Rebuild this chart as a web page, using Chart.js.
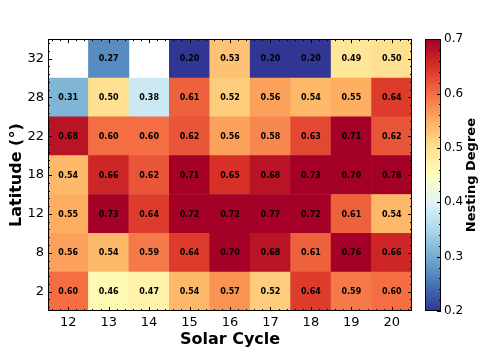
<!DOCTYPE html>
<html>
<head>
<meta charset="utf-8">
<script src="https://cdn.jsdelivr.net/npm/chart.js@4/dist/chart.umd.min.js"></script>
<style>
html, body { margin: 0; padding: 0; background: #fff; }
#wrap { width: 488px; height: 355px; position: relative; }
</style>
</head>
<body>
<div id="wrap"><canvas id="chart"></canvas></div>
<script>
// solar cycles on x, latitude bands on y (bottom to top)
const cycles = [12, 13, 14, 15, 16, 17, 18, 19, 20];
const latitudes = ['2', '8', '12', '18', '22', '28', '32'];

const lat2  = [0.60, 0.46, 0.47, 0.54, 0.57, 0.52, 0.64, 0.59, 0.60];
const lat8  = [0.56, 0.54, 0.59, 0.64, 0.70, 0.68, 0.61, 0.76, 0.66];
const lat12 = [0.55, 0.73, 0.64, 0.72, 0.72, 0.77, 0.72, 0.61, 0.54];
const lat18 = [0.54, 0.66, 0.62, 0.71, 0.65, 0.68, 0.73, 0.70, 0.78];
const lat22 = [0.68, 0.60, 0.60, 0.62, 0.56, 0.58, 0.63, 0.71, 0.62];
const lat28 = [0.31, 0.50, 0.38, 0.61, 0.52, 0.56, 0.54, 0.55, 0.64];
const lat32 = [null, 0.27, null, 0.20, 0.53, 0.20, 0.20, 0.49, 0.50];
const rows = [lat2, lat8, lat12, lat18, lat22, lat28, lat32];

const cbTicks = [0.2, 0.3, 0.4, 0.5, 0.6, 0.7];
const vmin = 0.2, vmax = 0.7;

// RdYlBu reversed
const stops = ['#313695', '#4575b4', '#74add1', '#abd9e9', '#e0f3f8', '#ffffbf',
               '#fee090', '#fdae61', '#f46d43', '#d73027', '#a50026'];

function hexRgb(h) {
    return [parseInt(h.slice(1, 3), 16), parseInt(h.slice(3, 5), 16), parseInt(h.slice(5, 7), 16)];
}

function cmap(v) {
    let t = (v - vmin) / (vmax - vmin);
    t = Math.max(0, Math.min(1, t));
    let p = t * (stops.length - 1);
    let i = Math.min(Math.floor(p), stops.length - 2);
    let f = p - i;
    let a = hexRgb(stops[i]), b = hexRgb(stops[i + 1]);
    let c = a.map((x, k) => Math.round(x + (b[k] - x) * f));
    return 'rgb(' + c.join(',') + ')';
}

let datasets = [];
for (let r = 0; r < rows.length; r++) {
    let pts = [];
    for (let i = 0; i < cycles.length; i++) {
        if (rows[r][i] == null) continue;
        pts.push({x: cycles[i], y: [r - 0.5, r + 0.5], v: rows[r][i]});
    }
    datasets.push({
        label: latitudes[r],
        data: pts,
        grouped: false,
        barPercentage: 1,
        categoryPercentage: 1,
        borderWidth: 0,
        backgroundColor: ctx => ctx.raw ? cmap(ctx.raw.v) : '#fff'
    });
}

const FONT = "'DejaVu Sans', sans-serif";

let decor = {
    id: 'decor',
    afterDatasetsDraw(chart) {
        let ctx = chart.ctx;
        ctx.save();
        ctx.font = 'bold 8px ' + FONT;
        ctx.fillStyle = '#000';
        ctx.textAlign = 'center';
        ctx.textBaseline = 'middle';
        chart.data.datasets.forEach((ds, di) => {
            chart.getDatasetMeta(di).data.forEach((bar, j) => {
                let p = bar.getProps(['x', 'y', 'base'], true);
                ctx.fillText(ds.data[j].v.toFixed(2), p.x, (p.y + p.base) / 2 + 0.5);
            });
        });
        ctx.restore();
    },
    afterDraw(chart) {
        let ctx = chart.ctx;
        let a = chart.chartArea;
        let xs = chart.scales.x, ys = chart.scales.y, cb = chart.scales.cb;
        ctx.save();
        ctx.strokeStyle = '#000';
        ctx.lineWidth = 1;

        // ticks, inward on all sides
        ctx.beginPath();
        for (let k = 58; k <= 102; k++) {
            let px = Math.round(xs.getPixelForValue(k / 5)) + 0.5;
            let len = k % 5 == 0 ? 4 : 2;
            ctx.moveTo(px, a.bottom); ctx.lineTo(px, a.bottom - len);
            ctx.moveTo(px, a.top); ctx.lineTo(px, a.top + len);
        }
        for (let k = -2; k <= 32; k++) {
            let py = Math.round(ys.getPixelForValue(k / 5)) + 0.5;
            let len = k % 5 == 0 ? 4 : 2;
            ctx.moveTo(a.left, py); ctx.lineTo(a.left + len, py);
            ctx.moveTo(a.right, py); ctx.lineTo(a.right - len, py);
        }
        ctx.stroke();
        ctx.strokeRect(Math.round(a.left) + 0.5, Math.round(a.top) + 0.5,
                       Math.round(a.right - a.left) - 1, Math.round(a.bottom - a.top) - 1);

        // colorbar
        let cx = cb.left + 13, cw = 16;
        let y0 = cb.getPixelForValue(vmin), y1 = cb.getPixelForValue(vmax);
        let g = ctx.createLinearGradient(0, y0, 0, y1);
        stops.forEach((s, i) => g.addColorStop(i / (stops.length - 1), s));
        ctx.fillStyle = g;
        ctx.fillRect(cx, y1, cw, y0 - y1);
        ctx.beginPath();
        for (let k = 10; k <= 35; k++) {
            let py = Math.round(cb.getPixelForValue(k / 50)) + 0.5;
            let len = k % 5 == 0 ? 4 : 2;
            ctx.moveTo(cx + cw, py); ctx.lineTo(cx + cw - len, py);
        }
        ctx.stroke();
        ctx.strokeRect(cx + 0.5, Math.round(y1) + 0.5, cw - 1, Math.round(y0 - y1) - 1);

        ctx.fillStyle = '#000';
        ctx.font = 'bold 13px ' + FONT;
        ctx.textAlign = 'center';
        ctx.textBaseline = 'middle';
        ctx.translate(cb.right - 16, (a.top + a.bottom) / 2);
        ctx.rotate(-Math.PI / 2);
        ctx.fillText('Nesting Degree', 0, 0);
        ctx.restore();
    }
};

Chart.defaults.color = '#000';
Chart.defaults.font.family = FONT;

let chart = new Chart('chart', {
    type: 'bar',
    data: { datasets: datasets },
    options: {
        responsive: true,
        maintainAspectRatio: false,
        animation: false,
        layout: { padding: { left: 0, top: 12, right: 0, bottom: 0 } },
        plugins: { legend: { display: false }, tooltip: { enabled: false } },
        scales: {
            x: {
                type: 'linear',
                min: 11.5,
                max: 20.5,
                offset: false,
                grid: { display: false, drawTicks: false },
                border: { display: false },
                afterBuildTicks: s => { s.ticks = cycles.map(c => ({value: c})); },
                afterFit: s => { s.height = 44; },
                ticks: { padding: 4, font: { size: 13 }, maxRotation: 0, autoSkip: false,
                         callback: v => String(v) },
                title: { display: true, text: 'Solar Cycle', font: { size: 16, weight: 'bold' },
                         padding: { top: 0, bottom: 6 } }
            },
            y: {
                type: 'linear',
                min: -0.5,
                max: 6.5,
                grid: { display: false, drawTicks: false },
                border: { display: false },
                afterBuildTicks: s => { s.ticks = latitudes.map((l, i) => ({value: i})); },
                afterFit: s => { s.width = 48; },
                ticks: { padding: 4, font: { size: 13 }, autoSkip: false,
                         callback: v => latitudes[v] },
                title: { display: true, text: 'Latitude (°)', font: { size: 16, weight: 'bold' },
                         padding: { top: 7, bottom: 0 } }
            },
            cb: {
                type: 'linear',
                position: 'right',
                min: vmin,
                max: vmax,
                grid: { display: false, drawTicks: false },
                border: { display: false },
                afterBuildTicks: s => { s.ticks = cbTicks.map(v => ({value: v})); },
                afterFit: s => { s.width = 76; },
                ticks: { padding: 32, font: { size: 12 }, callback: v => v.toFixed(1) }
            }
        }
    },
    plugins: [decor]
});
</script>
</body>
</html>
